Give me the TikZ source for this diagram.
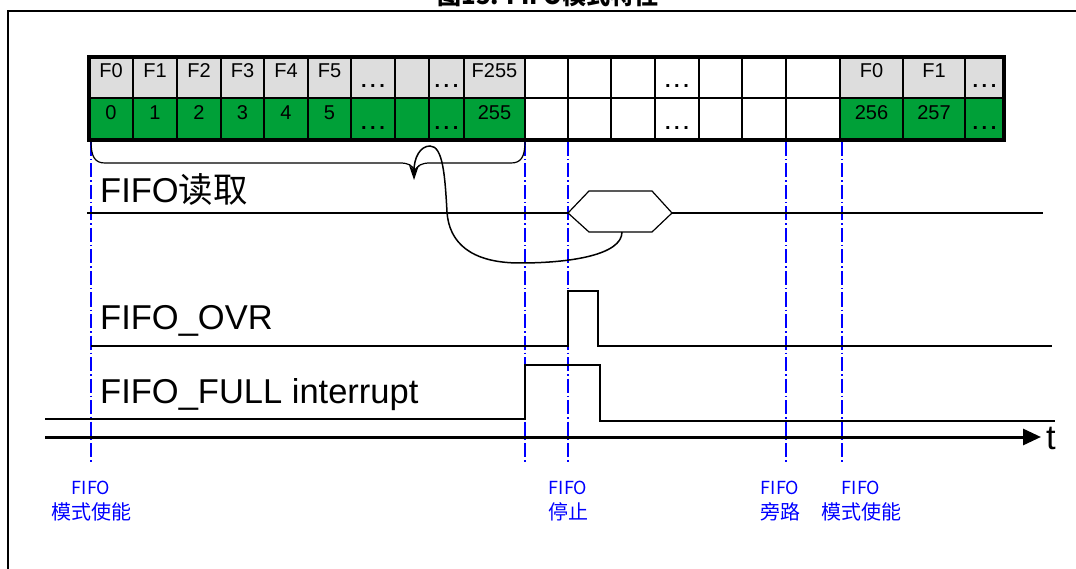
\documentclass[tikz,border=0pt]{standalone}
\usepackage{fontspec}
\setmainfont{Liberation Sans}
\newfontfamily\cjk{Noto Sans CJK SC}
\usetikzlibrary{arrows.meta}
\definecolor{cellgray}{RGB}{221,221,221}
\definecolor{cellgreen}{RGB}{0,160,56}
\definecolor{markblue}{RGB}{0,0,255}
\newcommand\lowdots{\raisebox{-10pt}{\bfseries .\hspace{3.5pt}.\hspace{3.5pt}.}}

\begin{document}
\begin{tikzpicture}[
  x=1pt, y=-1pt,
  >=stealth,
  sig/.style={line width=2.4pt},
  fine/.style={line width=1.2pt},
  cellline/.style={line width=1.5pt},
  vmark/.style={draw=markblue, line width=1.2pt, dash pattern=on 14pt off 3pt on 1.5pt off 3pt},
  celltxt/.style={anchor=base, inner sep=0pt, font=\fontsize{20}{20}\selectfont},
  siglbl/.style={anchor=base west, inner sep=0pt, font=\fontsize{34.5}{34.5}\selectfont},
  evlbl/.style={anchor=base, inner sep=0pt, text=markblue, font=\cjk\fontsize{18}{18}\selectfont},
  evcjk/.style={evlbl, font=\cjk\fontsize{20}{20}\selectfont}
]
  \useasboundingbox (0,0) rectangle (1076,569);
  \draw[line width=2pt] (8,569) -- (8,11) -- (1076,11);
  \node[anchor=base, inner sep=0pt, font=\cjk\bfseries\fontsize{24}{24}\selectfont] (title) at (548,5) {图15. FIFO模式特性};

  % FIFO cells
  \foreach \xa/\xb/\fa/\fb/\la/\lb [count=\i] in {
    89/133/cellgray/cellgreen/F0/0,
    133/177/cellgray/cellgreen/F1/1,
    177/221/cellgray/cellgreen/F2/2,
    221/264/cellgray/cellgreen/F3/3,
    264/308/cellgray/cellgreen/F4/4,
    308/351/cellgray/cellgreen/F5/5,
    351/395/cellgray/cellgreen/\lowdots/\lowdots,
    395/429/cellgray/cellgreen/{}/{},
    429/464/cellgray/cellgreen/\lowdots/\lowdots,
    464/525/cellgray/cellgreen/F255/255,
    525/568/white/white/{}/{},
    568/611/white/white/{}/{},
    611/655/white/white/{}/{},
    655/699/white/white/\lowdots/\lowdots,
    699/742/white/white/{}/{},
    742/786/white/white/{}/{},
    786/840/white/white/{}/{},
    840/903/cellgray/cellgreen/F0/256,
    903/965/cellgray/cellgreen/F1/257,
    965/1004/cellgray/cellgreen/\lowdots/\lowdots}
  {
    \fill[\fa] (\xa,57) rectangle (\xb,98);
    \fill[\fb] (\xa,98) rectangle (\xb,140);
    \draw[cellline] (\xa,57) rectangle (\xb,98) (\xa,98) rectangle (\xb,140);
    \node[celltxt] (top\i) at ({(\xa+\xb)/2},78) {\la};
    \node[celltxt] (bot\i) at ({(\xa+\xb)/2},120) {\lb};
  }
  \draw[line width=4pt] (89,57) rectangle (1004,140);

  % event markers
  \foreach \x in {91,525,568,786,842}
    \draw[vmark] (\x,142) -- (\x,463);

  % brace under the read block
  \coordinate (bracetip) at (415,172);
  \draw[fine] (91,141) .. controls (91,157) and (95,163) .. (105,163) -- (400,163)
    .. controls (408,163) and (413,165) .. (bracetip)
    .. controls (417,165) and (422,163) .. (430,163) -- (511,163)
    .. controls (521,163) and (525,157) .. (525,141);

  % FIFO read
  \node[siglbl] (rd) at (100,203) {FIFO{\cjk 读取}};
  \draw[sig] (87,213) -- (568,213);
  \draw[sig] (672,213) -- (1043,213);
  \draw[fine] (568,213) -- (589,191) -- (652,191) -- (672,213) -- (652,232) -- (589,232) -- cycle;
  \coordinate (hexbot) at (622,232);
  \coordinate (readtip) at (414,180);
  \draw[line width=1.5pt, -{Stealth[length=15pt,width=10pt]}] (hexbot) .. controls (622,255) and (570,263) .. (520,263)
    .. controls (470,263) and (449,242) .. (447,212)
    .. controls (445,176) and (443,146) .. (430,146)
    .. controls (420,146) and (414,158) .. (readtip);

  % FIFO_OVR
  \node[siglbl] (ovr) at (100,330) {FIFO\_OVR};
  \draw[sig] (91,346) -- (568,346) -- (568,291) -- (598,291) -- (598,346) -- (1052,346);

  % FIFO_FULL
  \node[siglbl] (full) at (100,403) {FIFO\_FULL interrupt};
  \draw[sig] (45,419) -- (525,419) -- (525,365) -- (600,365) -- (600,421) -- (1055,421);

  % time axis
  \coordinate (t0) at (45,437);
  \coordinate (t1) at (1041,437);
  \draw[line width=3pt, -{Triangle[length=18pt,width=16pt]}] (t0) -- (t1);
  \node[siglbl] (tlbl) at (1046,449) {t};

  % event labels
  \foreach \x/\lx/\txt [count=\i] in {91/91/模式使能, 568/568/停止, 786/780/旁路, 842/861/模式使能} {
    \node[evlbl] (ev\i) at (\lx,494) {FIFO};
    \node[evcjk] (evb\i) at (\lx,519) {\txt};
  }
\end{tikzpicture}
\end{document}
